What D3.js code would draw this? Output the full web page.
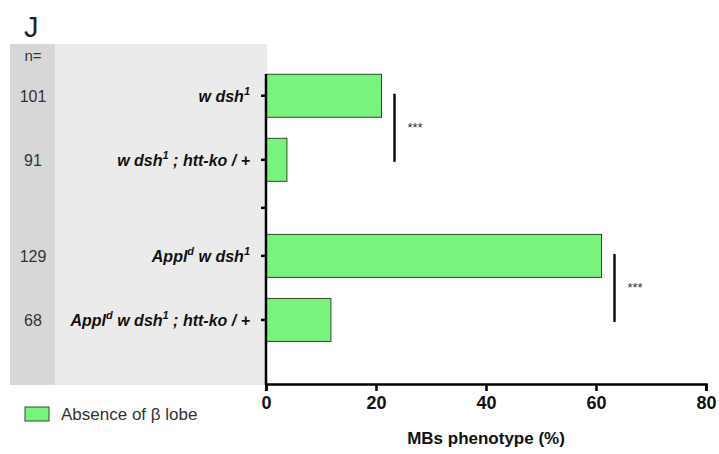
<!DOCTYPE html>
<html>
<head>
  <meta charset="utf-8" />
  <title>MBs phenotype</title>
  <script src="https://cdn.jsdelivr.net/npm/d3@7"></script>
  <style>
    body, html { margin: 0; background: #fff; }
    svg { display: block; font-family: "Liberation Sans", Arial, sans-serif; }
  </style>
</head>
<body>
  <svg id="chart" width="719" height="454"></svg>
  <script>
    // data
    var genotypes = ["w dsh1", "w dsh1 ; htt-ko / +", "Appl w dsh1", "Appl w dsh1 ; htt-ko / +"];
    var slots = [0.34, 1.34, 2.84, 3.84];       // vertical position of each row
    var gapSlot = 2.09;                          // empty tick between groups
    var counts = ["101", "91", "129", "68"];
    var absence = [21, 3.8, 61, 11.8];
    var xTicks = [0, 20, 40, 60, 80];
    var sigPairs = [[0, 1], [2, 3]];
    var sigLabels = ["***", "***"];

    var svg = d3.select("#chart");

    var x = d3.scaleLinear().domain([0, 80]).range([266, 706]);
    var y = d3.scaleLinear().domain([0, 4.84]).range([74, 384]);
    var barH = 43;

    // grey side panel
    svg.append("rect").attr("x", 10).attr("y", 44).attr("width", 257).attr("height", 341).attr("fill", "#ebebeb");
    svg.append("rect").attr("x", 10).attr("y", 44).attr("width", 45).attr("height", 341).attr("fill", "#d7d7d7");

    svg.append("text").attr("x", 24).attr("y", 37).attr("font-size", 29).attr("fill", "#222").text("J");

    svg.append("text").attr("x", 33).attr("y", 61).attr("text-anchor", "middle")
      .attr("font-size", 15).attr("fill", "#333").text("n=");

    svg.selectAll(".n").data(counts).enter().append("text")
      .attr("x", 33).attr("y", function(d, i) { return y(slots[i]) + 6; })
      .attr("text-anchor", "middle").attr("font-size", 16).attr("fill", "#333")
      .text(function(d) { return d; });

    // bars
    svg.selectAll(".bar").data(absence).enter().append("rect")
      .attr("x", x(0)).attr("y", function(d, i) { return y(slots[i]) - barH / 2; })
      .attr("width", function(d) { return x(d) - x(0); })
      .attr("height", barH)
      .attr("fill", "#78f47c").attr("stroke", "#2f4a30").attr("stroke-width", 1);

    // row labels with superscripts
    function label(i) {
      var t = svg.append("text").attr("x", 250).attr("y", y(slots[i]) + 6)
        .attr("text-anchor", "end").attr("font-size", 16).attr("font-weight", "bold")
        .attr("font-style", "italic").attr("fill", "#111");
      var appl = i >= 2, ko = i % 2 == 1;
      if (appl) {
        t.append("tspan").text("Appl");
        t.append("tspan").attr("dy", -7).attr("font-size", 11).text("d");
        t.append("tspan").attr("dy", 7).text(" w dsh");
      } else {
        t.append("tspan").text("w dsh");
      }
      t.append("tspan").attr("dy", -7).attr("font-size", 11).text("1");
      if (ko) t.append("tspan").attr("dy", 7).text(" ; htt-ko / +");
    }
    genotypes.forEach(function(g, i) { label(i); });

    // axes
    svg.append("g").attr("transform", "translate(0,384)")
      .call(d3.axisBottom(x).tickValues(xTicks).tickSize(7).tickPadding(5))
      .call(function(g) {
        g.select(".domain").attr("stroke-width", 2.5);
        g.selectAll(".tick line").attr("stroke-width", 2.5);
        g.selectAll("text").attr("font-size", 18).attr("font-weight", "bold")
          .attr("font-family", "Liberation Sans, Arial, sans-serif").attr("fill", "#111");
      });

    svg.append("line").attr("x1", x(0)).attr("x2", x(0)).attr("y1", 74).attr("y2", 385)
      .attr("stroke", "#000").attr("stroke-width", 2.5);

    svg.selectAll(".ytick").data(slots.concat([gapSlot])).enter().append("line")
      .attr("x1", x(0) - 5).attr("x2", x(0))
      .attr("y1", function(d) { return y(d); }).attr("y2", function(d) { return y(d); })
      .attr("stroke", "#000").attr("stroke-width", 2.5);

    svg.append("text").attr("x", 486).attr("y", 444).attr("text-anchor", "middle")
      .attr("font-size", 17).attr("font-weight", "bold").attr("fill", "#111")
      .text("MBs phenotype (%)");

    // significance brackets
    sigPairs.forEach(function(p, k) {
      var lx = x(d3.max(p, function(i) { return absence[i]; })) + 13;
      var y0 = y(slots[p[0]]) - 2, y1 = y(slots[p[1]]) + 2;
      svg.append("line").attr("x1", lx).attr("x2", lx).attr("y1", y0).attr("y2", y1)
        .attr("stroke", "#111").attr("stroke-width", 2.5);
      svg.append("text").attr("x", lx + 13).attr("y", (y0 + y1) / 2 + 4)
        .attr("font-size", 13).attr("fill", "#333").text(sigLabels[k]);
    });

    // legend
    svg.append("rect").attr("x", 25).attr("y", 407).attr("width", 24).attr("height", 14)
      .attr("fill", "#78f47c").attr("stroke", "#2f4a30");
    svg.append("text").attr("x", 61).attr("y", 420).attr("font-size", 17).attr("fill", "#333")
      .text("Absence of \u03b2 lobe");
  </script>
</body>
</html>
